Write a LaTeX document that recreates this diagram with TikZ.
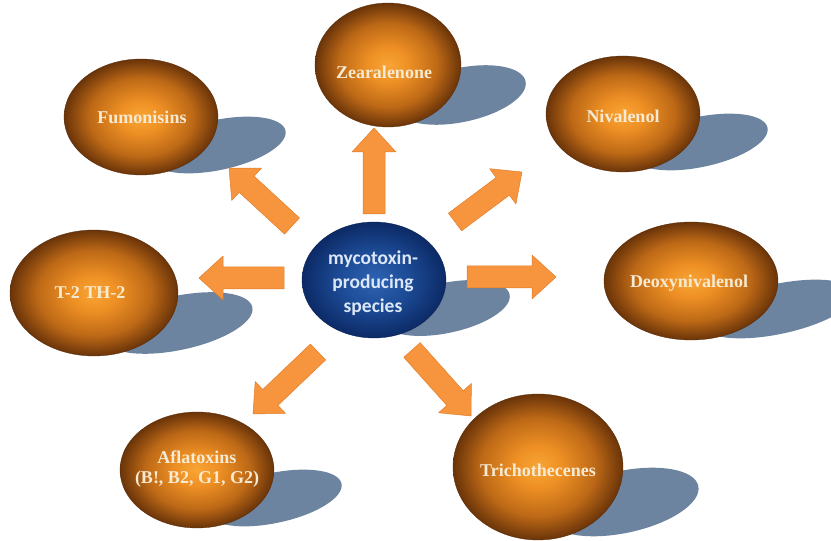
\documentclass[tikz,border=0pt]{standalone}
\usepackage{fontspec}
\setmainfont{Liberation Serif}
\newfontfamily\calib{Carlito}
\usetikzlibrary{shapes.geometric,calc}
\definecolor{orbA}{HTML}{F9A535}
\definecolor{orbB}{HTML}{EE9024}
\definecolor{orbC}{HTML}{BC6816}
\definecolor{orbD}{HTML}{6A3409}
\definecolor{bluA}{HTML}{2E63B2}
\definecolor{bluB}{HTML}{1D4C97}
\definecolor{bluC}{HTML}{0C2A66}
\definecolor{labelcol}{HTML}{F7EAD2}
\definecolor{centrecol}{HTML}{DCE8F8}
\definecolor{shadowcol}{HTML}{657D9C}
\definecolor{arrowfill}{HTML}{F7943E}
\definecolor{arrowedge}{HTML}{E27D2A}
\pgfdeclareradialshading{orbshade}{\pgfpoint{0bp}{0bp}}{color(0bp)=(orbA); color(7bp)=(orbB); color(17bp)=(orbC); color(25bp)=(orbD); color(50bp)=(orbD)}
\pgfdeclareradialshading{blueshade}{\pgfpoint{0bp}{0bp}}{color(0bp)=(bluA); color(12bp)=(bluB); color(25bp)=(bluC); color(50bp)=(bluC)}
\tikzset{
  orb/.style={ellipse, shading=orbshade, draw=orbD!80!black, line width=0.3pt, inner sep=0pt},
  centreorb/.style={ellipse, shading=blueshade, draw=bluC!80!black, line width=0.3pt, inner sep=0pt},
  labeltext/.style={text=labelcol, font=\fontsize{18}{20}\selectfont\bfseries, align=center, inner sep=0pt},
  centretext/.style={text=centrecol, font=\calib\bfseries\fontsize{19.5}{24}\selectfont, align=center, inner sep=0pt},
  shadowshape/.style={fill=shadowcol, opacity=0.95},
  blockarrowstyle/.style={fill=arrowfill, draw=arrowedge, line width=0.5pt, line join=round}
}
\newcommand\blockarrow[2]{%
  \path[blockarrowstyle]
    ($(#1)!11pt!90:(#2)$)
    -- ($ ($(#2)!24pt!(#1)$) !11pt!90:(#2) $)
    -- ($ ($(#2)!24pt!(#1)$) !22pt!90:(#2) $)
    -- (#2)
    -- ($ ($(#2)!24pt!(#1)$) !22pt!-90:(#2) $)
    -- ($ ($(#2)!24pt!(#1)$) !11pt!-90:(#2) $)
    -- ($(#1)!11pt!-90:(#2)$)
    -- cycle;}
\begin{document}
\begin{tikzpicture}[x=1pt,y=1pt]
\useasboundingbox (0,0) rectangle (831,541);
\clip (0,0) rectangle (831,541);
% shadows
\fill[shadowshape] (218,396) ellipse [x radius=69, y radius=25, rotate=12];
\fill[shadowshape] (461,446) ellipse [x radius=66, y radius=27, rotate=12];
\fill[shadowshape] (700,399) ellipse [x radius=69, y radius=25, rotate=12];
\fill[shadowshape] (178,218) ellipse [x radius=76, y radius=27, rotate=12];
\fill[shadowshape] (446,233) ellipse [x radius=65, y radius=25, rotate=12];
\fill[shadowshape] (778,232) ellipse [x radius=78, y radius=25, rotate=12];
\fill[shadowshape] (274,43) ellipse [x radius=69, y radius=25, rotate=12];
\fill[shadowshape] (623,39) ellipse [x radius=77, y radius=31, rotate=12];
% ellipses
\node[orb, minimum width=146pt, minimum height=124pt] (zear) at (388,476) {};
\node[orb, minimum width=154pt, minimum height=116pt] (fumo) at (141,424) {};
\node[orb, minimum width=154pt, minimum height=116pt] (niva) at (623,427) {};
\node[orb, minimum width=168pt, minimum height=126pt] (ttwo) at (94,248) {};
\node[orb, minimum width=174pt, minimum height=118pt] (deoxy) at (691,260) {};
\node[orb, minimum width=154pt, minimum height=116pt] (afla) at (197,71) {};
\node[orb, minimum width=170pt, minimum height=146pt] (tricho) at (538,74) {};
\node[centreorb, minimum width=144pt, minimum height=116pt] (centre) at (374,261) {};
% labels
\node[labeltext] (zearlab) at (384,469) {Zearalenone};
\node[labeltext] (fumolab) at (142,424) {Fumonisins};
\node[labeltext] (nivalab) at (623,425) {Nivalenol};
\node[labeltext] (ttwolab) at (90,248) {T-2 TH-2};
\node[labeltext] (deoxylab) at (689,258) {Deoxynivalenol};
\node[labeltext] (aflalab) at (197,72) {Aflatoxins\\(B!, B2, G1, G2)};
\node[labeltext] (tricholab) at (538,71) {Trichothecenes};
\node[centretext] (centrelab) at (373,258) {mycotoxin-\\producing\\species};
% arrow end points
\coordinate (a1t) at (374,327); \coordinate (a1h) at (374,413);
\coordinate (a2t) at (292,315); \coordinate (a2h) at (229,373);
\coordinate (a3t) at (455,319); \coordinate (a3h) at (522,369);
\coordinate (a4t) at (284,263); \coordinate (a4h) at (199,263);
\coordinate (a5t) at (467,264); \coordinate (a5h) at (556,264);
\coordinate (a6t) at (318,189); \coordinate (a6h) at (253,127);
\coordinate (a7t) at (412,191); \coordinate (a7h) at (471,125);
\blockarrow{a1t}{a1h}
\blockarrow{a2t}{a2h}
\blockarrow{a3t}{a3h}
\blockarrow{a4t}{a4h}
\blockarrow{a5t}{a5h}
\blockarrow{a6t}{a6h}
\blockarrow{a7t}{a7h}
\end{tikzpicture}
\end{document}
